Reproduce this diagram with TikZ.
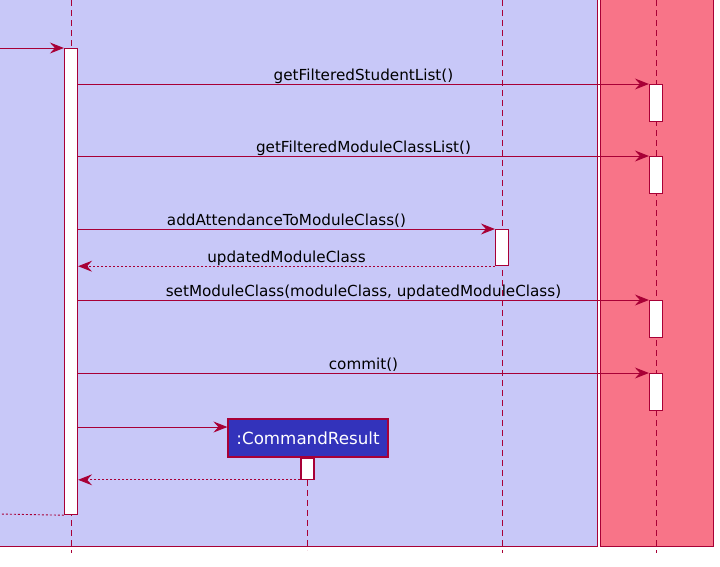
\documentclass[tikz,border=0pt]{standalone}
\usepackage{fontspec}
\setmainfont{DejaVu Sans}
\usetikzlibrary{positioning, arrows.meta}
\definecolor{umlline}{HTML}{A80036}
\definecolor{boxblue}{HTML}{C8C8F8}
\definecolor{boxred}{HTML}{F87488}
\definecolor{objblue}{HTML}{3333BB}
\tikzset{
    boxframe/.style={
        draw=umlline,
        line width=1pt
    },
    lifeline/.style={
        draw=umlline,
        line width=1pt,
        dash pattern=on 6pt off 4pt
    },
    act/.style={
        draw=umlline,
        fill=white,
        line width=1.2pt,
        minimum width=13pt,
        inner sep=0pt,
        anchor=north
    },
    obj/.style={
        draw=umlline,
        fill=objblue,
        text=white,
        line width=1.2pt,
        minimum width=160pt,
        minimum height=38pt,
        inner sep=0pt,
        font=\fontsize{16.7}{19}\selectfont
    },
    msg/.style={
        draw=umlline,
        line width=0.9pt,
        -{Stealth[length=14pt,width=11pt,inset=5pt]}
    },
    ret/.style={
        msg,
        dash pattern=on 2pt off 2pt
    },
    lbl/.style={
        anchor=base,
        yshift=3.5pt,
        inner sep=0pt,
        font=\fontsize{15.2}{18}\selectfont
    }
}
\begin{document}
\begin{tikzpicture}[x=1pt,y=-1pt]
    \useasboundingbox (0,0) rectangle (720,566);
    % boxes
    \draw[boxframe, fill=boxblue] (-5,-5) rectangle (597,546);
    \draw[boxframe, fill=boxred] (600,-5) rectangle (713,546);
    \foreach \x in {71,502,656}
      \draw[lifeline] (\x,0) -- (\x,553);
    % activations
    \node[act, minimum height=466] (ctl) at (71,48) {};
    \node[act, minimum height=36] (mc) at (502,229) {};
    \foreach \n/\y in {m1/84,m2/156,m3/300,m4/373}
      \node[act, minimum height=37] (\n) at (656,\y) {};
    \node[obj] (cr) at (308,438) {:CommandResult};
    \node[act, minimum height=21, below=0pt of cr, xshift=-0.5pt] (cra) {};
    \draw[lifeline] (cra.south) -- ++(0,70);
    % messages
    \coordinate (in) at (0,48);
    \coordinate (out) at (0,514);
    \draw[msg] (in) -- (ctl.north west);
    \foreach \t/\txt in {m1/getFilteredStudentList(),m2/getFilteredModuleClassList(),mc/addAttendanceToModuleClass(),m3/{setModuleClass(moduleClass, updatedModuleClass)},m4/commit()}
      \draw[msg] (ctl.east |- \t.north) -- node[lbl]{\txt} (\t.north west);
    \draw[ret] (mc.south west) -- node[lbl]{updatedModuleClass} (ctl.east |- mc.south);
    \path ([yshift=11pt]cr.west) coordinate (crin);
    \draw[msg] (ctl.east |- crin) -- (crin);
    \draw[ret] (cra.south west) -- (ctl.east |- cra.south);
    \draw[ret, -] (ctl.south west) -- (out);
\end{tikzpicture}
\end{document}
